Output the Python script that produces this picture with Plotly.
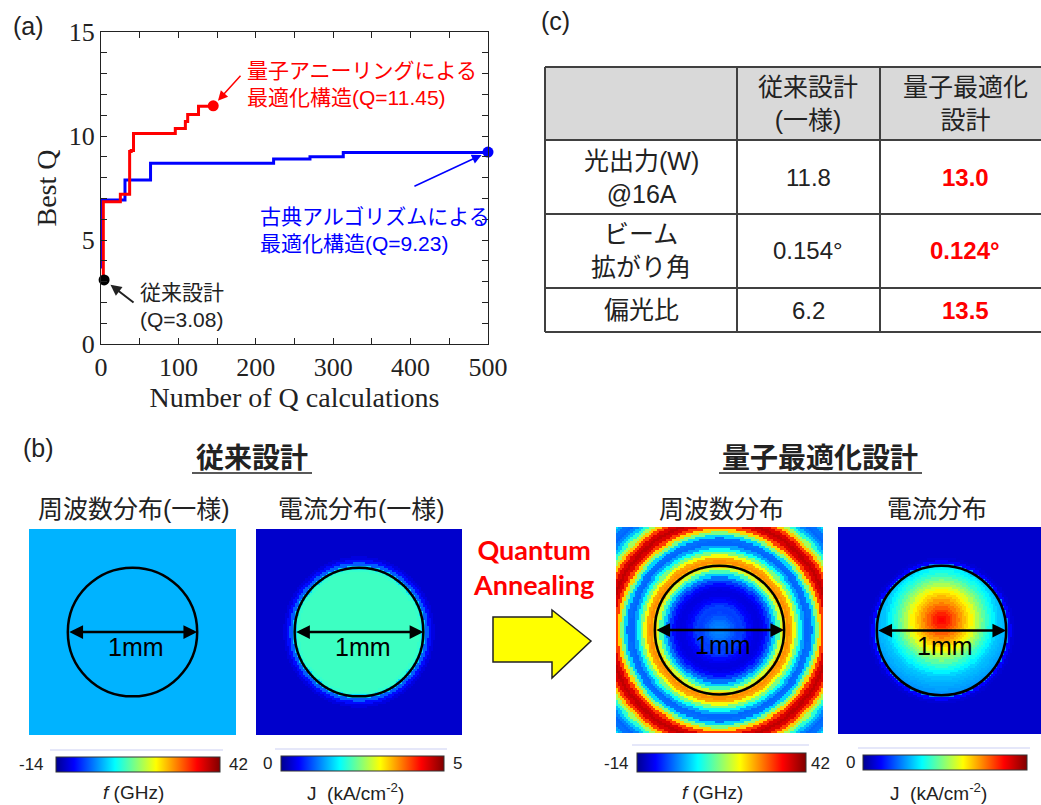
import numpy as np
import plotly.graph_objects as go

W, H = 1041, 805

# ---------------- (a) Best Q vs number of Q calculations ----------------
BLUE_X = [0, 1, 31, 64, 223, 270, 313, 500]
BLUE_Y = [3.7, 6.92, 7.89, 8.69, 8.89, 9.0, 9.21, 9.23]
RED_X = [3, 3, 25, 37, 39, 42, 96, 109, 112, 126, 145]
RED_Y = [3.08, 6.84, 7.2, 9.26, 9.3, 10.12, 10.36, 10.7, 11.03, 11.43, 11.45]
CONV_PT = [4, 3.08]
QUANT_PT = [145, 11.45]
CLASSIC_PT = [500, 9.23]
X_TICKS = [0, 100, 200, 300, 400, 500]
Y_TICKS = [0, 5, 10, 15]
RED_LABEL = "量子アニーリングによる<br>最適化構造(Q=11.45)"
BLUE_LABEL = "古典アルゴリズムによる<br>最適化構造(Q=9.23)"
BLACK_LABEL = "従来設計<br>(Q=3.08)"

# ---------------- (c) table ----------------
TABLE_HEADER = ["", "従来設計<br>(一様)", "量子最適化<br>設計"]
TABLE_ROW_LABELS = ["光出力(W)<br>@16A", "ビーム<br>拡がり角", "偏光比"]
TABLE_CONV = ["11.8", "0.154°", "6.2"]
TABLE_QUANT = ["13.0", "0.124°", "13.5"]

# ---------------- (b) field maps (radial profiles) ----------------
R_STEP = 0.025  # mm between profile samples
F_RANGE = [-14, 42]
J_RANGE = [0, 5]
F_CONV_VALUE = 2.0
F_QUANT_PROFILE = [-0.6, -0.6, -1.1, -1.7, -2.8, -3.9, -4.5, -4.2, -5.5, -7.5,
                   -8.5, -9.3, -9.5, -9.0, -7.5, -5.0, -1.5, 3.5, 10.0, 17.5,
                   23.5, 26.3, 25.0, 19.6, 12.9, 6.7, 1.1, -2.2, -1.7, 3.9,
                   12.9, 22.4, 30.8, 36.4, 38.1, 36.4, 30.8, 23.0, 15.1, 8.4,
                   2.8, -0.6, -2.2, -1.7, 1.1, 4.5, 7.3]
J_CONV_PROFILE = [2.1, 2.1, 2.1, 2.1, 2.1, 2.1, 2.1, 2.1, 2.1, 2.1,
                  2.1, 2.1, 2.1, 2.1, 2.1, 2.1, 2.1, 2.1, 2.1, 2.05,
                  1.6, 1.0, 0.6, 0.4, 0.3]
J_QUANT_CORE = [4.3, 4.25, 4.15, 4.0, 3.85, 3.7, 3.55, 3.4, 3.25, 3.1,
                2.9, 2.65, 2.45, 2.25, 2.05, 1.9, 1.75, 1.6, 1.5, 1.45,
                1.4, 1.35, 1.3, 1.25, 1.2]
J_QUANT_HALO = [1.2, 0.55, 0.35, 0.3]
HOT_SPOT = [0.0, 0.08]
CIRCLE_R = 0.5

JET = [[0.0, "#00008f"], [0.11, "#0000ff"], [0.36, "#00ffff"],
       [0.61, "#ffff00"], [0.86, "#ff0000"], [1.0, "#800000"]]

SANS = "Liberation Sans, Noto Sans CJK JP"
SERIF = "Liberation Serif"


def px(x):
    return x / W


def py(y):
    return 1 - y / H


def lookup(profile, r):
    idx = np.clip(np.rint(r / R_STEP).astype(int), 0, len(profile) - 1)
    return np.asarray(profile)[idx]


def note(text, x, y, size, color="#222", family=SANS, xanchor="center", align="center"):
    return dict(xref="paper", yref="paper", x=px(x), y=py(y), text=text,
                showarrow=False, xanchor=xanchor, yanchor="middle", align=align,
                font=dict(family=family, size=size, color=color))


g = np.linspace(-0.792, 0.792, 100)
GX, GY = np.meshgrid(g, g)
RC = np.hypot(GX, GY)
RH = np.hypot(GX - HOT_SPOT[0], GY - HOT_SPOT[1])

Z_F_CONV = np.full_like(RC, F_CONV_VALUE)
Z_J_CONV = lookup(J_CONV_PROFILE, RC)
Z_F_QUANT = lookup(F_QUANT_PROFILE, RC)
Z_J_QUANT = np.where(RC <= CIRCLE_R, lookup(J_QUANT_CORE, RH),
                     lookup(J_QUANT_HALO, np.clip(RC - CIRCLE_R, 0, None)))

fig = go.Figure()

# ---- (a) traces
fig.add_trace(go.Scatter(x=BLUE_X, y=BLUE_Y, mode="lines",
                         line=dict(color="#0000ff", width=3, shape="hv"),
                         showlegend=False, hoverinfo="skip"))
fig.add_trace(go.Scatter(x=RED_X, y=RED_Y, mode="lines",
                         line=dict(color="#ff0000", width=3, shape="hv"),
                         showlegend=False, hoverinfo="skip"))
for pt, col in [(CONV_PT, "#000000"), (QUANT_PT, "#ff0000"), (CLASSIC_PT, "#0000ff")]:
    fig.add_trace(go.Scatter(x=[pt[0]], y=[pt[1]], mode="markers",
                             marker=dict(color=col, size=11), cliponaxis=False,
                             showlegend=False, hoverinfo="skip"))

# ---- (b) heatmaps
maps = [
    (Z_F_CONV, F_RANGE, "2", 138, 164, 757, 15),
    (Z_J_CONV, J_RANGE, "3", 362.5, 163, 756, 15),
    (Z_F_QUANT, F_RANGE, "4", 721.5, 169, 753, 19),
    (Z_J_QUANT, J_RANGE, "5", 945, 164, 755, 15),
]
for z, zr, ax, cbx, cblen, cby, cbth in maps:
    fig.add_trace(go.Heatmap(
        x=g, y=g, z=z, zmin=zr[0], zmax=zr[1], colorscale=JET,
        xaxis="x" + ax, yaxis="y" + ax, hoverinfo="skip",
        colorbar=dict(orientation="h", x=px(cbx), xanchor="center",
                      y=py(cby), yanchor="top", len=cblen, lenmode="pixels",
                      thickness=cbth, thicknessmode="pixels", outlinewidth=1,
                      outlinecolor="#333", showticklabels=False, ticks="",
                      xpad=0, ypad=0)))

axis_common = dict(showline=True, linecolor="#222", linewidth=1, mirror="ticks",
                   ticks="inside", ticklen=6, tickcolor="#222", showgrid=False,
                   zeroline=False, tickfont=dict(family=SERIF, size=26, color="#222"))

layout = dict(
    width=W, height=H, margin=dict(l=0, r=0, t=0, b=0, autoexpand=False),
    paper_bgcolor="white", plot_bgcolor="white", showlegend=False,
    font=dict(family=SANS, color="#222"),
    xaxis=dict(domain=[px(101), px(488)], range=[0, 500], tickvals=X_TICKS,
               anchor="y",
               minor=dict(dtick=50, ticks="inside", ticklen=6, tickcolor="#222"),
               title=dict(text="Number of Q calculations",
                          font=dict(family=SERIF, size=28, color="#222"), standoff=3),
               **axis_common),
    yaxis=dict(domain=[py(344), py(32)], range=[0, 15], tickvals=Y_TICKS,
               anchor="x",
               minor=dict(dtick=1, ticks="inside", ticklen=6, tickcolor="#222"),
               title=dict(text="Best Q",
                          font=dict(family=SERIF, size=28, color="#222"), standoff=3),
               **axis_common),
)

hm_boxes = {
    "2": (29, 236, 529, 735, [-0.8, 0.8]),
    "3": (256, 462, 529, 735, [-0.8, 0.8]),
    "4": (616, 823, 527, 733, [-0.8, 0.8]),
    "5": (838, 1041, 527, 734, [-0.8, 0.769]),
}
for k, (x0, x1, y0, y1, xr) in hm_boxes.items():
    layout["xaxis" + k] = dict(domain=[px(x0), px(x1)], range=xr, visible=False,
                               anchor="y" + k, fixedrange=True)
    layout["yaxis" + k] = dict(domain=[py(y1), py(y0)], range=[-0.8, 0.8],
                               visible=False, anchor="x" + k, fixedrange=True)

shapes = []
annotations = []

# circles + double arrows + "1mm"
for k in ["2", "3", "4", "5"]:
    shapes.append(dict(type="circle", xref="x" + k, yref="y" + k,
                       x0=-CIRCLE_R, x1=CIRCLE_R, y0=-CIRCLE_R, y1=CIRCLE_R,
                       line=dict(color="black", width=2.5)))
    annotations.append(dict(xref="x" + k, yref="y" + k, axref="x" + k, ayref="y" + k,
                            x=CIRCLE_R, y=0, ax=-CIRCLE_R, ay=0, text="",
                            showarrow=True, arrowside="end+start", arrowhead=2,
                            startarrowhead=2, arrowsize=1.1, startarrowsize=1.1,
                            arrowwidth=2.5, arrowcolor="black", standoff=0,
                            startstandoff=0))
    annotations.append(dict(xref="x" + k, yref="y" + k, x=0.03, y=-0.12,
                            xanchor="center", yanchor="middle",
                            text="1mm", showarrow=False,
                            font=dict(family=SANS, size=25, color="black")))

# table
tx = [545, 737, 880, 1045]
ty = [67, 140, 214, 288, 332]
shapes.append(dict(type="rect", xref="paper", yref="paper",
                   x0=px(tx[0]), x1=px(tx[3]), y0=py(ty[1]), y1=py(ty[0]),
                   fillcolor="#d9d9d9", line=dict(width=0)))
for yy in ty:
    shapes.append(dict(type="line", xref="paper", yref="paper",
                       x0=px(tx[0]), x1=px(tx[3]), y0=py(yy), y1=py(yy),
                       line=dict(color="#404040", width=2)))
for xx in tx[:3]:
    shapes.append(dict(type="line", xref="paper", yref="paper",
                       x0=px(xx), x1=px(xx), y0=py(ty[0]), y1=py(ty[-1]),
                       line=dict(color="#404040", width=2)))
col_c = [641, 808, 965]
for ci, txt in enumerate(TABLE_HEADER):
    if txt:
        annotations.append(note(txt, col_c[ci], (ty[0] + ty[1]) / 2, 25))
for ri in range(3):
    yc = (ty[ri + 1] + ty[ri + 2]) / 2
    annotations.append(note(TABLE_ROW_LABELS[ri], col_c[0], yc, 25))
    annotations.append(note(TABLE_CONV[ri], col_c[1], yc, 24))
    annotations.append(note("<b>" + TABLE_QUANT[ri] + "</b>", col_c[2], yc, 24,
                            color="#ff0000"))

# panel labels
for txt, x, y in [("(a)", 28, 26), ("(c)", 555, 21), ("(b)", 38, 448)]:
    annotations.append(note(txt, x, y, 25))

# (a) annotations
annotations.append(note(RED_LABEL, 245, 84.5, 21, color="#ff0000",
                        xanchor="left", align="left"))
annotations.append(note(BLUE_LABEL, 258, 230, 21, color="#0000ff",
                        xanchor="left", align="left"))
annotations.append(note(BLACK_LABEL, 138, 305.5, 21, xanchor="left", align="left"))
annotations.append(dict(xref="x", yref="y", axref="x", ayref="y",
                        x=QUANT_PT[0], y=QUANT_PT[1], ax=182, ay=12.97, text="",
                        showarrow=True, arrowhead=2, arrowsize=1.3, arrowwidth=1.5,
                        arrowcolor="#ff0000", standoff=7))
annotations.append(dict(xref="x", yref="y", axref="x", ayref="y",
                        x=CLASSIC_PT[0], y=CLASSIC_PT[1], ax=403, ay=7.55, text="",
                        showarrow=True, arrowhead=2, arrowsize=1.3, arrowwidth=1.5,
                        arrowcolor="#0000ff", standoff=7))
annotations.append(dict(xref="x", yref="y", axref="x", ayref="y",
                        x=CONV_PT[0], y=CONV_PT[1], ax=44, ay=1.94, text="",
                        showarrow=True, arrowhead=2, arrowsize=1.1, arrowwidth=2,
                        arrowcolor="#222", standoff=8))

# (b) titles
annotations.append(note("<b>従来設計</b>", 251.5, 458, 28))
annotations.append(note("<b>量子最適化設計</b>", 820, 458, 28))
shapes.append(dict(type="line", xref="paper", yref="paper", x0=px(192), x1=px(312),
                   y0=py(473), y1=py(473), line=dict(color="#222", width=1.5)))
shapes.append(dict(type="line", xref="paper", yref="paper", x0=px(719), x1=px(922),
                   y0=py(473), y1=py(473), line=dict(color="#222", width=1.5)))
for txt, x in [("周波数分布(一様)", 134), ("電流分布(一様)", 361),
               ("周波数分布", 721), ("電流分布", 937)]:
    annotations.append(note(txt, x, 509, 25))
annotations.append(note("<b>Quantum<br>Annealing</b>", 533, 567, 27,
                        color="#ff0000", family="Lato"))

# yellow arrow
pts = [(493, 617), (552, 617), (552, 610), (591, 641), (552, 678), (552, 662), (493, 662)]
path = "M " + " L ".join(f"{px(a):.5f},{py(b):.5f}" for a, b in pts) + " Z"
shapes.append(dict(type="path", xref="paper", yref="paper", path=path,
                   fillcolor="#ffff00", line=dict(color="#222", width=1.5)))

# colorbar end labels and titles
for txt, x, y in [("-14", 31, 764), ("42", 238, 764), ("0", 267, 763), ("5", 457, 763),
                  ("-14", 616, 763), ("42", 820, 763), ("0", 850, 762)]:
    annotations.append(note(txt, x, y, 17))
for txt, x in [("<i>f</i> (GHz)", 133), ("J  (kA/cm<sup>-2</sup>)", 355),
               ("<i>f</i> (GHz)", 712), ("J  (kA/cm<sup>-2</sup>)", 938)]:
    annotations.append(note(txt, x, 792, 19))
# faint lines above colour bars
for x0, x1, y in [(50, 223, 750), (275, 447, 749), (632, 809, 745), (858, 1030, 748)]:
    shapes.append(dict(type="line", xref="paper", yref="paper", x0=px(x0), x1=px(x1),
                       y0=py(y), y1=py(y), line=dict(color="rgba(190,195,240,0.8)", width=1)))

layout["shapes"] = shapes
layout["annotations"] = annotations
fig.update_layout(**layout)
fig.write_html("out.html", config={"displayModeBar": False},
               post_script="document.body.style.margin='0';document.body.style.overflow='hidden';")
